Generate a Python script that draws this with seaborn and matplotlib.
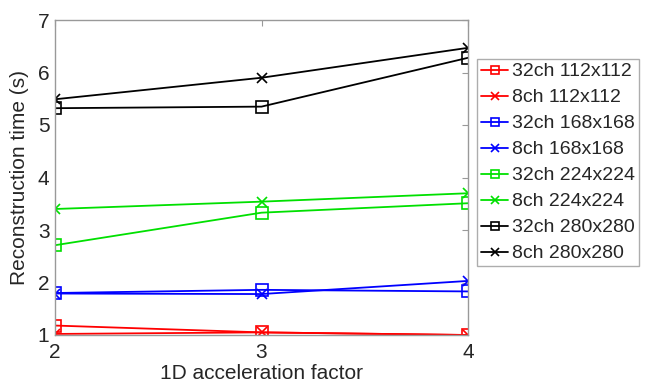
import matplotlib
matplotlib.use("Agg")
import matplotlib.pyplot as plt
import seaborn as sns
import pandas as pd

accel = [2, 3, 4]
labels = ["32ch 112x112", "8ch 112x112", "32ch 168x168", "8ch 168x168",
          "32ch 224x224", "8ch 224x224", "32ch 280x280", "8ch 280x280"]
v_32_112 = [1.18, 1.05, 1.00]
v_8_112 = [1.02, 1.05, 1.00]
v_32_168 = [1.80, 1.86, 1.83]
v_8_168 = [1.79, 1.78, 2.03]
v_32_224 = [2.71, 3.33, 3.51]
v_8_224 = [3.40, 3.54, 3.70]
v_32_280 = [5.32, 5.35, 6.28]
v_8_280 = [5.49, 5.90, 6.47]
values = [v_32_112, v_8_112, v_32_168, v_8_168, v_32_224, v_8_224, v_32_280, v_8_280]
colors = ["#ff0000", "#ff0000", "#0000ff", "#0000ff", "#00e000", "#00e000", "#000000", "#000000"]
markers = ["s", "x", "s", "x", "s", "x", "s", "x"]

sns.set_style("white")
plt.rcParams['font.family'] = ['Liberation Sans', 'DejaVu Sans']

fig = plt.figure(figsize=(6.46, 3.88), dpi=100)
ax = fig.add_axes([55/646, 53/388, (468-55)/646, (335-20)/388])

for lab, vals, c, m in zip(labels, values, colors, markers):
    df = pd.DataFrame({"x": accel, "y": vals})
    sns.lineplot(data=df, x="x", y="y", ax=ax, color=c, marker=m, label=lab,
                 markersize=8 if m == "s" else 7, markerfacecolor="none",
                 markeredgecolor=c, markeredgewidth=1.2, linewidth=1.3)

ax.set_xlim(2, 4)
ax.set_ylim(1, 7)
ax.set_xticks(accel)
ax.set_yticks([1, 2, 3, 4, 5, 6, 7])
ax.set_xlabel("1D acceleration factor", fontsize=15, labelpad=1)
ax.set_ylabel("Reconstruction time (s)", fontsize=15, labelpad=6)
ax.tick_params(axis="both", direction="in", length=4, color="#999999",
               labelsize=15, top=True, right=True)
ax.tick_params(axis="x", pad=6)
ax.tick_params(axis="y", pad=4)
for s in ax.spines.values():
    s.set_color("#999999")
    s.set_linewidth(1.0)

leg = ax.legend(loc="upper left", bbox_to_anchor=(477/646, 1 - 59/388),
                bbox_transform=fig.transFigure, borderaxespad=0, fontsize=14,
                fancybox=False, frameon=True, handlelength=1.4, handletextpad=0.2,
                labelspacing=0.43, borderpad=0.2, markerscale=0.8)
leg.get_frame().set_edgecolor("#999999")
leg.get_frame().set_linewidth(1.0)

fig.savefig("out.png", dpi=100)
